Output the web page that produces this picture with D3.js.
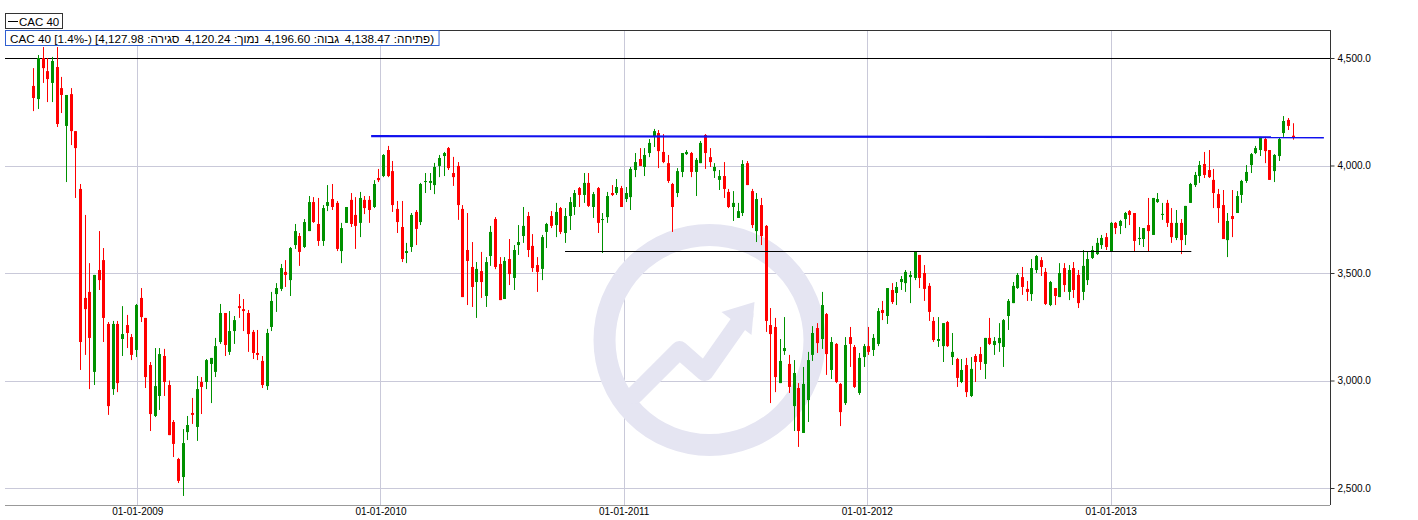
<!DOCTYPE html>
<html><head><meta charset="utf-8">
<script src="https://cdn.jsdelivr.net/npm/d3@7"></script>
<style>
html,body{margin:0;padding:0;background:#fff;overflow:hidden;}
svg{display:block;}
text{font-family:"Liberation Sans",Arial,sans-serif;}
</style></head><body>
<svg id="chart" width="1418" height="520"></svg>
<script>
// ---------- data ----------
const seriesName = "CAC 40";
const firstWeek = "2008-07-29";
const opens = [
4370,4309,4500,4439,4384,4458,4360,4184,4332,4160,
3891,3384,3412,3040,3514,3560,3263,2960,3263,3193,
3258,3202,3142,3384,3291,3072,2835,2928,3114,2979,
2807,2635,2551,2760,2849,2784,2993,2993,3077,3040,
3179,3314,3133,3230,3346,3332,3314,3226,3128,3091,
2974,3249,3402,3426,3505,3467,3630,3672,3621,3695,
3830,3728,3649,3812,3844,3826,3602,3733,3840,3770,
3733,3840,3840,3807,3942,3951,4072,3974,3798,3714,
3593,3621,3784,3737,3923,3919,3909,3998,4044,4081,
3965,3998,3798,3607,3528,3458,3509,3393,3579,3751,
3542,3379,3565,3477,3630,3672,3765,3626,3537,3519,
3691,3765,3723,3802,3686,3765,3807,3895,3863,3919,
3807,3895,3747,3760,3872,3872,3895,3844,3853,3979,
4030,3993,4058,4137,4151,4063,4011,3914,3872,3970,
4053,4058,3970,4011,4142,4039,3974,3933,3951,3877,
3807,3756,3779,4011,3881,3695,3816,3719,3258,3249,
2988,3137,3077,2881,2965,2756,2909,3119,3244,3193,
3309,3049,3170,2984,2895,3202,3156,2942,3109,3160,
3142,3170,3328,3300,3421,3407,3458,3453,3481,3477,
3584,3500,3440,3277,3184,3160,3272,3109,3100,2993,
3072,2928,3114,3123,3077,3198,3165,3174,3156,3300,
3360,3430,3481,3426,3402,3514,3560,3505,3351,3430,
3388,3523,3412,3523,3491,3412,3467,3570,3588,3630,
3667,3602,3733,3719,3751,3788,3779,3658,3658,3723,
3677,3830,3770,3826,3733,3663,3733,3677,3826,3909,
3951,4007,3979,3933,3867,3816,3653,3765,3779,3863,
3928,4002,4058,4072,4123,4072,3974,4044,4151,4212,
4138.47];
const highs = [
4453,4514,4551,4500,4505,4551,4412,4328,4360,4160,
3914,3770,3546,3491,3695,3616,3272,3277,3277,3346,
3305,3216,3356,3430,3291,3086,3151,3151,3147,3000,
2816,2640,2774,2835,2919,3021,3016,3100,3105,3198,
3356,3314,3323,3300,3402,3379,3328,3235,3235,3114,
3240,3412,3453,3542,3560,3621,3728,3686,3751,3858,
3853,3849,3816,3909,3914,3835,3733,3807,3872,3853,
3877,3858,3858,3932,3984,4053,4091,4021,3835,3835,
3640,3779,3793,3919,3965,3965,4012,4049,4063,4086,
4040,4016,3816,3779,3644,3551,3598,3574,3719,3760,
3574,3574,3658,3630,3723,3807,3784,3681,3574,3677,
3733,3788,3826,3807,3802,3853,3886,3900,3965,3965,
3877,3900,3779,3877,3909,3937,3905,3900,3993,4058,
4081,4081,4123,4170,4165,4146,4049,3919,3988,4058,
4072,4063,4035,4114,4146,4081,4011,3979,4016,3891,
3881,3826,4025,4021,3891,3872,3849,3723,3337,3291,
3193,3295,3119,3095,2988,3063,3133,3253,3267,3412,
3314,3202,3174,2988,3202,3249,3165,3128,3170,3249,
3216,3337,3370,3430,3453,3458,3486,3514,3509,3598,
3584,3537,3453,3295,3295,3267,3277,3221,3105,3100,
3105,3109,3123,3156,3198,3291,3202,3267,3286,3379,
3458,3500,3528,3463,3565,3584,3574,3523,3463,3430,
3546,3546,3537,3551,3514,3607,3598,3626,3663,3677,
3686,3737,3737,3747,3784,3793,3779,3714,3709,3849,
3849,3872,3826,3840,3802,3793,3751,3812,3919,3970,
4021,4063,4072,3984,3891,3886,3779,3886,3881,3933,
4002,4058,4091,4133,4133,4072,4053,4128,4230,4221,
4196.60];
const lows = [
4253,4263,4384,4295,4295,4179,4244,3923,4095,3849,
3049,3119,2960,2979,3421,3179,2840,2933,2946,3114,
3151,3095,3109,3272,2965,2765,2830,2863,2928,2746,
2644,2523,2463,2723,2798,2719,2844,2960,2895,3016,
3170,3114,3119,3170,3291,3230,3133,3100,3095,2965,
2956,3230,3319,3416,3435,3393,3612,3533,3616,3695,
3733,3626,3626,3788,3793,3602,3546,3733,3714,3612,
3667,3774,3733,3802,3923,3946,3946,3784,3686,3551,
3546,3598,3630,3723,3872,3886,3867,3946,3951,3979,
3905,3747,3388,3351,3342,3291,3384,3342,3533,3518,
3374,3379,3444,3421,3584,3640,3574,3505,3412,3467,
3616,3709,3667,3681,3640,3700,3770,3807,3826,3807,
3756,3686,3593,3733,3858,3863,3807,3830,3793,3946,
3998,3951,4039,4086,3988,4011,3919,3691,3853,3946,
4049,3946,3858,4011,3984,3993,3942,3886,3849,3802,
3742,3756,3765,3909,3709,3644,3630,3226,2895,2946,
2988,3119,2942,2765,2691,2756,2807,3091,3128,3147,
3026,3007,2988,2788,2886,3063,2965,2933,3063,3119,
3114,3160,3281,3263,3356,3351,3421,3412,3360,3467,
3430,3370,3277,3179,3156,3086,3156,3072,2970,2988,
2923,2923,2993,3049,3007,3165,3119,3133,3063,3235,
3360,3426,3398,3370,3370,3500,3486,3351,3346,3351,
3388,3412,3374,3384,3337,3374,3444,3565,3584,3612,
3607,3602,3681,3681,3709,3723,3602,3630,3621,3602,
3677,3826,3747,3714,3640,3653,3588,3630,3826,3900,
3919,3942,3942,3802,3733,3658,3574,3667,3779,3826,
3919,3965,4053,4044,4011,3933,3923,4021,4133,4165,
4120.24];
const closes = [
4314,4500,4453,4402,4486,4193,4328,4328,4160,4081,
3179,3332,3198,3491,3467,3291,2881,3263,2988,3216,
3221,3119,3351,3295,3016,2844,2974,3123,2993,2746,
2705,2533,2709,2793,2840,2960,2970,3095,3105,3160,
3314,3165,3230,3281,3337,3323,3216,3128,3119,2979,
3221,3370,3430,3523,3491,3616,3695,3598,3737,3830,
3737,3649,3802,3830,3807,3612,3709,3807,3728,3719,
3849,3802,3793,3914,3932,4049,3951,3816,3737,3565,
3602,3770,3705,3914,3928,3928,3993,4035,4058,3988,
3946,3816,3388,3556,3435,3519,3458,3551,3691,3528,
3374,3556,3495,3607,3644,3719,3607,3523,3505,3667,
3728,3719,3784,3691,3765,3830,3872,3863,3919,3812,
3867,3733,3751,3858,3863,3900,3807,3872,3984,4016,
3998,4049,4105,4160,4067,4016,3928,3807,3974,4058,
4063,3970,4026,4105,4058,4016,3993,3951,3891,3807,
3826,3788,4007,3909,3723,3844,3672,3277,3216,3016,
3091,3151,2970,3035,2765,2984,3095,3221,3174,3351,
3123,3179,2993,2853,3165,3170,2970,3105,3160,3133,
3198,3323,3314,3430,3365,3435,3472,3505,3491,3598,
3477,3426,3319,3188,3193,3267,3160,3133,3012,3049,
2946,3054,3086,3086,3198,3170,3184,3198,3281,3370,
3440,3491,3435,3412,3523,3579,3528,3356,3458,3393,
3500,3444,3514,3421,3360,3533,3565,3607,3640,3663,
3621,3733,3709,3742,3779,3770,3649,3663,3709,3695,
3849,3844,3775,3733,3667,3733,3653,3812,3914,3956,
4002,3956,3946,3872,3802,3658,3742,3751,3858,3928,
3970,4053,4081,4133,4067,3933,4049,4123,4207,4184,
4127.98];
const yTicks = [2500, 3000, 3500, 4000, 4500];
const xTickDates = ["2009-01-01", "2010-01-01", "2011-01-01", "2012-01-01", "2013-01-01"];
const xTickLabels = ["01-01-2009", "01-01-2010", "01-01-2011", "01-01-2012", "01-01-2013"];
const resistanceDates = ["2009-12-18", "2013-11-17"];
const resistanceValues = [4137, 4131];
const supportDates = ["2010-10-05", "2013-05-02"];
const supportValues = [3600, 3600];
const topLineValue = 4500;
const lastQuote = {open: "4,138.47", high: "4,196.60", low: "4,120.24", close: "4,127.98", change: "1.4%-"};

// ---------- layout ----------
const W = 1418, H = 520;
const plot = {left: 5, right: 1330, top: 30, bottom: 505};
const parse = d3.utcParse("%Y-%m-%d");
const start = parse(firstWeek);
const dates = opens.map((_, i) => d3.utcDay.offset(start, 7 * i));
const candles = opens.map((o, i) => ({date: dates[i], o, h: highs[i], l: lows[i], c: closes[i]}));

const x = d3.scaleUtc()
  .domain([parse("2009-01-01"), parse("2013-01-01")])
  .range([137.3, 1110.7]);
const y = d3.scaleLinear().domain([2500, 4500]).range([488, 58]);

const svg = d3.select("#chart");
svg.append("rect").attr("width", W).attr("height", H).attr("fill", "#fff");

const defs = svg.append("defs");
defs.append("clipPath").attr("id", "clip").append("rect")
  .attr("x", plot.left).attr("y", plot.top)
  .attr("width", plot.right - plot.left).attr("height", plot.bottom - plot.top);

// grid
const grid = svg.append("g");
grid.selectAll("line.h").data(yTicks.filter(v => v !== topLineValue)).join("line")
  .attr("x1", plot.left).attr("x2", plot.right)
  .attr("y1", d => Math.round(y(d)) + 0.5).attr("y2", d => Math.round(y(d)) + 0.5)
  .attr("stroke", "#c9c9d9").attr("stroke-width", 1);
grid.selectAll("line.v").data(xTickDates).join("line")
  .attr("x1", d => Math.round(x(parse(d))) + 0.5).attr("x2", d => Math.round(x(parse(d))) + 0.5)
  .attr("y1", plot.top).attr("y2", plot.bottom)
  .attr("stroke", "#c9c9d9").attr("stroke-width", 1);

// watermark
const wm = svg.append("g");
const wmC = [709.5, 340];
const wmColor = "#e5e5f2";
wm.append("circle").attr("cx", wmC[0]).attr("cy", wmC[1]).attr("r", 105)
  .attr("fill", "none").attr("stroke", wmColor).attr("stroke-width", 22);
wm.append("path")
  .attr("d", `M${wmC[0]-75},${wmC[1]+55} L${wmC[0]-30},${wmC[1]+10} L${wmC[0]-5},${wmC[1]+32} L${wmC[0]+35},${wmC[1]-25}`)
  .attr("fill", "none").attr("stroke", wmColor).attr("stroke-width", 18)
  .attr("stroke-linejoin", "round").attr("stroke-linecap", "round");
wm.append("path")
  .attr("d", `M${wmC[0]+12},${wmC[1]-28} L${wmC[0]+45},${wmC[1]-38} L${wmC[0]+42},${wmC[1]-5} Z`)
  .attr("fill", wmColor);

// top line 4500
svg.append("line").attr("x1", plot.left).attr("x2", plot.right)
  .attr("y1", Math.round(y(topLineValue)) + 0.5).attr("y2", Math.round(y(topLineValue)) + 0.5)
  .attr("stroke", "#000").attr("stroke-width", 1);

// candles
const cg = svg.append("g").attr("clip-path", "url(#clip)");
const up = "#009100", down = "#ff0000";
const cx = d => Math.round(x(d.date));
cg.selectAll("line.wick").data(candles).join("line")
  .attr("x1", d => cx(d) + 0.5).attr("x2", d => cx(d) + 0.5)
  .attr("y1", d => y(d.h)).attr("y2", d => y(d.l))
  .attr("stroke", d => d.c >= d.o ? up : down).attr("stroke-width", 1);
cg.selectAll("rect.body").data(candles).join("rect")
  .attr("x", d => cx(d) - 1).attr("width", 3)
  .attr("y", d => y(Math.max(d.o, d.c)))
  .attr("height", d => Math.max(1, Math.abs(y(d.o) - y(d.c))))
  .attr("fill", d => d.c >= d.o ? up : down);

// support line
svg.append("line")
  .attr("x1", x(parse(supportDates[0]))).attr("x2", x(parse(supportDates[1])))
  .attr("y1", Math.round(y(supportValues[0])) + 0.5).attr("y2", Math.round(y(supportValues[1])) + 0.5)
  .attr("stroke", "#000").attr("stroke-width", 1.2);
// resistance line
svg.append("line")
  .attr("x1", x(parse(resistanceDates[0]))).attr("x2", x(parse(resistanceDates[1])))
  .attr("y1", y(resistanceValues[0])).attr("y2", y(resistanceValues[1]))
  .attr("stroke", "#1010ee").attr("stroke-width", 2.2);

// frame / axes
svg.append("line").attr("x1", plot.right + 0.5).attr("x2", plot.right + 0.5)
  .attr("y1", plot.top).attr("y2", plot.bottom).attr("stroke", "#333");
svg.append("line").attr("x1", plot.left).attr("x2", plot.right)
  .attr("y1", plot.top + 0.5).attr("y2", plot.top + 0.5).attr("stroke", "#333");
svg.append("line").attr("x1", plot.left).attr("x2", plot.right)
  .attr("y1", plot.bottom + 0.5).attr("y2", plot.bottom + 0.5).attr("stroke", "#999");

const yAxis = d3.axisRight(y).tickValues(yTicks).tickSize(4).tickPadding(3)
  .tickFormat(d3.format(",.1f"));
const ya = svg.append("g").attr("transform", `translate(${plot.right + 0.5},0)`).call(yAxis);
ya.select(".domain").remove();
ya.selectAll("line").attr("stroke", "#333");
ya.selectAll("text").attr("font-size", 10).attr("fill", "#000")
  .attr("font-family", "'Liberation Sans', Arial, sans-serif");

const xAxis = d3.axisBottom(x).tickValues(xTickDates.map(parse)).tickSize(0).tickPadding(3)
  .tickFormat((d, i) => xTickLabels[i]);
const xa = svg.append("g").attr("transform", `translate(0,${plot.bottom})`).call(xAxis);
xa.select(".domain").remove();
xa.selectAll("text").attr("font-size", 10).attr("fill", "#000")
  .attr("font-family", "'Liberation Sans', Arial, sans-serif");

// legend box 1
const lg = svg.append("g");
lg.append("rect").attr("x", 5.5).attr("y", 13.5).attr("width", 57).attr("height", 15)
  .attr("fill", "#fff").attr("stroke", "#333");
lg.append("line").attr("x1", 8).attr("x2", 18).attr("y1", 21.5).attr("y2", 21.5).attr("stroke", "#000");
lg.append("text").attr("x", 19).attr("y", 25.5).attr("font-size", 11.5).text(seriesName);

// header quote box
const hb = svg.append("g");
const hbRect = hb.append("rect").attr("x", 5.5).attr("y", 30.5).attr("height", 15)
  .attr("fill", "#fff").attr("stroke", "#2f5fd0");
const tokens = [
  {t: `${seriesName} [${lastQuote.change}) [${lastQuote.close}`, rtl: false},
  {t: "סגירה:", rtl: true},
  {t: lastQuote.low, rtl: false},
  {t: "נמוך:", rtl: true},
  {t: lastQuote.high, rtl: false},
  {t: "גבוה:", rtl: true},
  {t: lastQuote.open, rtl: false},
  {t: "(פתיחה:", rtl: true}
];
let tx = 10;
tokens.forEach((tk, i) => {
  const el = hb.append("text").attr("y", 42.5).attr("font-size", 11.7).text(tk.t);
  if (tk.rtl) { el.attr("direction", "rtl").attr("unicode-bidi", "embed"); }
  const w = el.node().getComputedTextLength();
  if (tk.rtl) el.attr("x", tx + w).attr("text-anchor", "start");
  else el.attr("x", tx);
  tx += w + (i % 2 === 0 ? 3.5 : 5.5);
});
hbRect.attr("width", tx - 3.5 - 5.5 + 3);
</script>
</body></html>
